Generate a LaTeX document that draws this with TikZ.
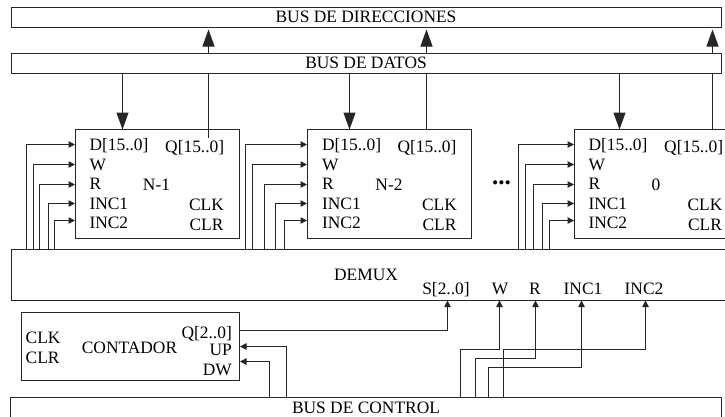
\documentclass[tikz,border=0pt]{standalone}
\usepackage{fontspec}
\setmainfont{Liberation Serif}
\usetikzlibrary{arrows.meta}
\tikzset{
 x=1pt,y=-1pt,
 conn/.style={draw=black!85,line width=1pt},
 small/.style={conn,-{Triangle[length=6.5pt,width=6.5pt]}},
 big/.style={conn,-{Triangle[length=17pt,width=12pt]}},
 box/.style={draw=black!85,line width=1pt,fill=white},
 lab/.style={inner sep=0pt,font=\fontsize{17.4}{17.4}\selectfont,anchor=base}
}
\begin{document}
\begin{tikzpicture}
\useasboundingbox[fill=white] (0,0) rectangle (725,416);
\clip (0,0) rectangle (725,416);
% vertical bus connectors
\coordinate (a1) at (208.5,138); \coordinate (t1) at (208.5,29.5);
\coordinate (a2) at (426.5,129.5); \coordinate (t2) at (426.5,29.5);
\coordinate (a3) at (712.5,129.5); \coordinate (t3) at (712.5,29.5);
\draw[big] (a1) -- (t1);
\draw[big] (a2) -- (t2);
\draw[big] (a3) -- (t3);
% buses
\node[box,anchor=north west,inner sep=0pt,minimum height=20pt,text width=710.5pt] (dir) at (10.5,6.5) {};
\node[box,anchor=north west,inner sep=0pt,minimum height=20pt,text width=710.5pt] (dat) at (10.5,52.5) {};
\node[lab] at (366,22) {BUS DE DIRECCIONES};
\node[lab] at (366,68) {BUS DE DATOS};
% module boxes
\path[box] (75.5,129.5) rectangle (239.5,238.5);
\path[box] (307.5,129.5) rectangle (471.5,238.5);
\path[box] (574.5,129.5) rectangle (738,238.5);
\draw[conn] (208.5,129.5) -- (a1);
% data arrows
\draw[big] (122.5,73) -- (122.5,129.5);
\draw[big] (349.5,73) -- (349.5,129.5);
\draw[big] (619.5,73) -- (619.5,129.5);
% demux
\path[box] (11.5,249.5) rectangle (738,300.5);
% inputs
\foreach \xa/\xb/\xc/\xd/\xe/\t in {26.5/33.5/39.5/48.5/54.5/75,245.5/252.5/264.5/275.5/284.5/307,518.5/525.5/533.5/542.5/549.5/574}{
 \draw[small] (\xa,249.5) |- (\t,144.5);
 \draw[small] (\xb,249.5) |- (\t,164.5);
 \draw[small] (\xc,249.5) |- (\t,184.5);
 \draw[small] (\xd,249.5) |- (\t,203.5);
 \draw[small] (\xe,249.5) |- (\t,220.5);
}
% module text
\foreach \dx/\name/\nx/\qx in {89.3/N-1/156.5/165,
 321.9/N-2/389/397.3,
 588.3/0/656/664}{
 \node[lab,anchor=base west] at (\dx,150.5) {D[15..0]};
 \node[lab,anchor=base west] at (\dx,170) {W};
 \node[lab,anchor=base west] at (\dx,189) {R};
 \node[lab,anchor=base west] at (\dx,209) {INC1};
 \node[lab,anchor=base west] at (\dx,228) {INC2};
 \node[lab] at (\nx,190) {\name};
 \node[lab,anchor=base west] at (\qx,152.5) {Q[15..0]};
}
\foreach \cx in {206.5,439.5,705}{
 \node[lab] at (\cx,210.5) {CLK};
 \node[lab] at (\cx,230.5) {CLR};
}
\node[lab,font=\fontsize{25}{25}\selectfont\bfseries] at (501.5,184) {...};
% demux text
\node[lab] at (366,280) {DEMUX};
\node[lab] at (446,294) {S[2..0]};
\node[lab] at (500,294) {W};
\node[lab] at (535,294) {R};
\node[lab] at (583,294) {INC1};
\node[lab] at (644,294) {INC2};
% counter
\path[box] (21.5,312.5) rectangle (239.5,380.5);
\node[lab,anchor=base west] at (25.5,343) {CLK};
\node[lab,anchor=base west] at (25.5,363) {CLR};
\node[lab] at (129.5,353) {CONTADOR};
\node[lab,anchor=base east] at (232,338) {Q[2..0]};
\node[lab,anchor=base east] at (232,355) {UP};
\node[lab,anchor=base east] at (232,375) {DW};
% control bus
\path[box] (10.5,397.5) rectangle (721,430);
\node[lab] at (366,413) {BUS DE CONTROL};
% control connectors
\draw[small] (239.5,330.5) -| (447.5,300.5);
\draw[small] (286.5,397.5) |- (240,346.5);
\draw[small] (269.5,397.5) |- (240,361.5);
\draw[small] (460.5,397.5) |- (499.5,349.5) -- (499.5,300.5);
\draw[small] (475.5,397.5) |- (535.5,358.5) -- (535.5,300.5);
\draw[small] (488.5,397.5) |- (581.5,367.5) -- (581.5,300.5);
\draw[small] (503.5,397.5) |- (645.5,349.5) -- (645.5,300.5);
\end{tikzpicture}
\end{document}
